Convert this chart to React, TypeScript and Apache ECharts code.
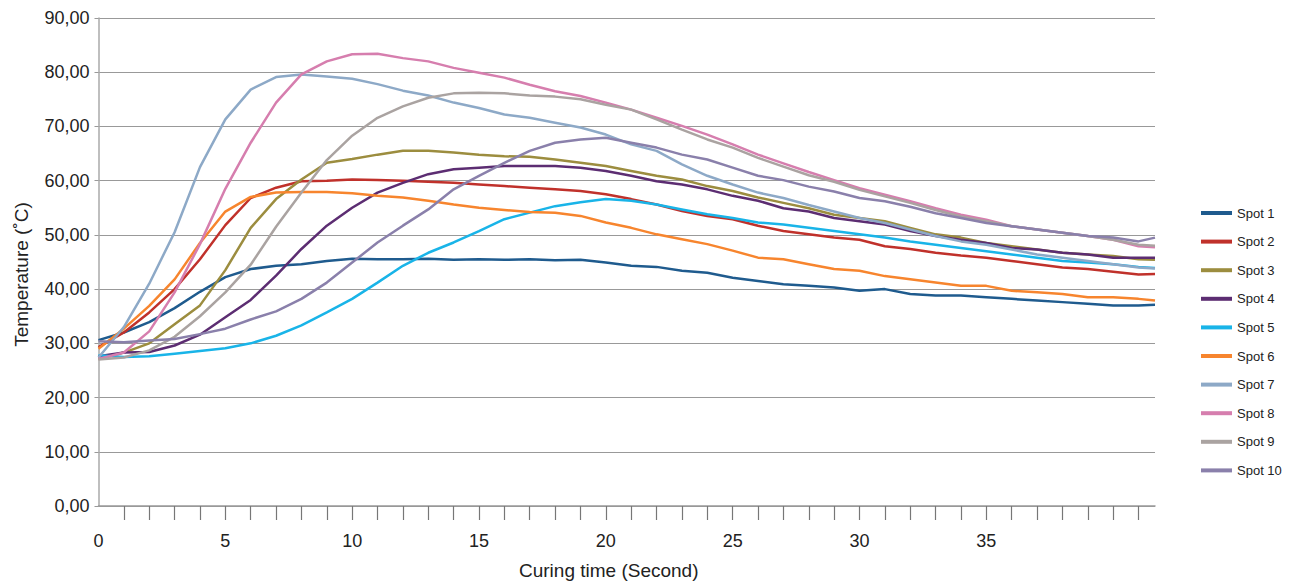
import React, { useEffect, useRef } from "react";
import * as echarts from "echarts";

const TIME = [0, 1, 2, 3, 4, 5, 6, 7, 8, 9, 10, 11, 12, 13, 14, 15, 16, 17, 18, 19, 20, 21, 22, 23, 24, 25, 26, 27, 28, 29, 30, 31, 32, 33, 34, 35, 36, 37, 38, 39, 40, 41, 41.65];

const SPOT_NAMES = ["Spot 1", "Spot 2", "Spot 3", "Spot 4", "Spot 5", "Spot 6", "Spot 7", "Spot 8", "Spot 9", "Spot 10"];
const SPOT_COLORS = ["#1f5b8e", "#c0312b", "#9c8d3f", "#5c2d72", "#19b4e8", "#f7852e", "#8da9c7", "#d67eae", "#aaa3a1", "#8a80ab"];

const SPOT1 = [30.6, 32.0, 33.9, 36.5, 39.5, 42.2, 43.7, 44.3, 44.6, 45.2, 45.6, 45.5, 45.5, 45.6, 45.4, 45.5, 45.4, 45.5, 45.3, 45.4, 44.9, 44.3, 44.1, 43.4, 43.0, 42.1, 41.5, 40.9, 40.6, 40.3, 39.7, 40.0, 39.1, 38.8, 38.8, 38.5, 38.2, 37.9, 37.6, 37.3, 37.0, 37.0, 37.1];
const SPOT2 = [29.3, 32.0, 35.7, 40.0, 45.5, 51.8, 56.8, 58.7, 59.9, 60.0, 60.2, 60.1, 60.0, 59.8, 59.6, 59.3, 59.0, 58.7, 58.4, 58.1, 57.5, 56.6, 55.6, 54.4, 53.5, 52.9, 51.7, 50.7, 50.1, 49.5, 49.1, 47.9, 47.4, 46.7, 46.2, 45.8, 45.2, 44.6, 44.0, 43.7, 43.2, 42.7, 42.8];
const SPOT3 = [27.1, 28.3, 30.0, 33.5, 37.0, 43.5, 51.3, 56.6, 60.2, 63.3, 64.0, 64.8, 65.5, 65.5, 65.2, 64.8, 64.5, 64.4, 63.9, 63.3, 62.7, 61.8, 60.9, 60.2, 59.0, 58.1, 56.9, 55.9, 54.9, 53.7, 53.1, 52.5, 51.3, 50.1, 49.5, 48.5, 47.9, 47.3, 46.7, 46.4, 46.1, 45.5, 45.4];
const SPOT4 = [27.6, 28.3, 28.4, 29.6, 31.6, 34.8, 38.0, 42.5, 47.4, 51.7, 55.0, 57.8, 59.6, 61.2, 62.1, 62.4, 62.7, 62.7, 62.7, 62.4, 61.8, 60.9, 59.9, 59.3, 58.4, 57.2, 56.3, 54.9, 54.3, 53.1, 52.5, 51.9, 50.7, 49.8, 49.1, 48.5, 47.6, 47.3, 46.7, 46.4, 45.8, 45.8, 45.8];
const SPOT5 = [27.8, 27.5, 27.6, 28.1, 28.6, 29.1, 30.0, 31.4, 33.3, 35.7, 38.2, 41.2, 44.3, 46.7, 48.6, 50.7, 52.9, 54.1, 55.3, 56.0, 56.6, 56.3, 55.6, 54.7, 53.8, 53.1, 52.3, 51.9, 51.3, 50.7, 50.1, 49.5, 48.8, 48.2, 47.6, 47.0, 46.4, 45.8, 45.2, 44.9, 44.6, 44.1, 43.9];
const SPOT6 = [29.0, 32.7, 36.9, 41.8, 48.5, 54.3, 57.0, 57.8, 57.9, 57.9, 57.7, 57.2, 56.9, 56.3, 55.6, 55.0, 54.6, 54.2, 54.1, 53.5, 52.3, 51.3, 50.1, 49.2, 48.3, 47.1, 45.8, 45.5, 44.6, 43.7, 43.4, 42.4, 41.8, 41.2, 40.6, 40.6, 39.7, 39.4, 39.1, 38.5, 38.5, 38.2, 37.9];
const SPOT7 = [27.4, 33.0, 41.0, 50.5, 62.5, 71.3, 76.8, 79.1, 79.6, 79.2, 78.8, 77.8, 76.6, 75.7, 74.4, 73.4, 72.2, 71.6, 70.7, 69.8, 68.5, 66.7, 65.5, 63.0, 60.9, 59.3, 57.8, 56.8, 55.5, 54.3, 53.1, 52.2, 51.0, 49.8, 48.8, 48.2, 47.3, 46.4, 45.8, 45.2, 44.6, 44.0, 43.8];
const SPOT8 = [27.1, 28.3, 32.2, 39.4, 48.3, 58.5, 67.0, 74.4, 79.6, 82.0, 83.3, 83.4, 82.6, 82.0, 80.8, 79.9, 79.0, 77.7, 76.5, 75.6, 74.4, 73.1, 71.6, 70.1, 68.5, 66.7, 64.8, 63.2, 61.6, 60.1, 58.6, 57.4, 56.2, 54.9, 53.7, 52.8, 51.6, 51.0, 50.4, 49.8, 49.1, 47.9, 47.7];
const SPOT9 = [27.0, 27.4, 28.7, 31.2, 35.0, 39.4, 44.5, 51.5, 57.8, 63.8, 68.3, 71.6, 73.7, 75.3, 76.1, 76.2, 76.1, 75.7, 75.5, 75.0, 74.0, 73.1, 71.3, 69.4, 67.6, 66.1, 64.2, 62.6, 61.0, 59.8, 58.3, 57.1, 55.9, 54.6, 53.4, 52.5, 51.6, 51.0, 50.4, 49.8, 49.1, 48.2, 48.0];
const SPOT10 = [30.4, 30.2, 30.5, 30.8, 31.7, 32.7, 34.4, 35.9, 38.2, 41.2, 44.9, 48.6, 51.7, 54.7, 58.4, 60.9, 63.3, 65.5, 67.0, 67.6, 67.9, 67.0, 66.1, 64.8, 63.9, 62.4, 60.9, 60.1, 58.9, 58.0, 56.8, 56.2, 55.2, 54.0, 53.1, 52.2, 51.6, 51.0, 50.4, 49.8, 49.5, 48.8, 49.5];

const SPOT_VALUES = [SPOT1, SPOT2, SPOT3, SPOT4, SPOT5, SPOT6, SPOT7, SPOT8, SPOT9, SPOT10];

const X_LABELS = [0, 5, 10, 15, 20, 25, 30, 35];
const X_TICKS = [1, 2, 3, 4, 5, 6, 7, 8, 9, 10, 11, 12, 13, 14, 15, 16, 17, 18, 19, 20, 21, 22, 23, 24, 25, 26, 27, 28, 29, 30, 31, 32, 33, 34, 35, 36, 37, 38, 39, 40, 41];

const FONT = "'Liberation Sans', Arial, Helvetica, sans-serif";

export default function App() {
  const ref = useRef<HTMLDivElement>(null);
  useEffect(() => {
    if (!ref.current) return;
    const chart = echarts.init(ref.current, null, { renderer: "svg" });
    chart.setOption({
      animation: false,
      backgroundColor: "#ffffff",
      grid: { left: 98.5, right: 135, top: 18, bottom: 76, containLabel: false },
      legend: {
        data: SPOT_NAMES,
        orient: "vertical",
        left: 1201,
        top: 205,
        padding: 0,
        itemGap: 12.6,
        itemWidth: 31,
        itemHeight: 4,
        icon: "rect",
        textStyle: {
          fontFamily: "'Liberation Sans Narrow', " + FONT,
          fontSize: 13,
          lineHeight: 16,
          color: "#222",
        },
      },
      xAxis: {
        type: "value",
        min: 0,
        max: 41.65,
        interval: 1,
        name: "Curing time (Second)",
        nameLocation: "middle",
        nameGap: 55,
        nameTextStyle: { fontFamily: FONT, fontSize: 19, color: "#222", padding: [0, 36, 0, 0] },
        axisLine: { show: true, lineStyle: { color: "#999", width: 1.5 } },
        axisTick: { show: true, inside: false, length: 14, customValues: X_TICKS, lineStyle: { color: "#777", width: 1.2 } },
        axisLabel: { customValues: X_LABELS, fontFamily: FONT, fontSize: 18, color: "#222", margin: 26 },
        splitLine: { show: false },
      },
      yAxis: {
        type: "value",
        min: 0,
        max: 90,
        interval: 10,
        name: "Temperature (˚C)",
        nameLocation: "middle",
        nameGap: 68,
        nameRotate: 90,
        nameTextStyle: { fontFamily: FONT, fontSize: 19, color: "#222", padding: [0, 25, 0, 0] },
        axisLine: { show: true, lineStyle: { color: "#aaa", width: 1.5 } },
        axisTick: { show: true, length: 4, lineStyle: { color: "#999" } },
        axisLabel: {
          fontFamily: FONT,
          fontSize: 18,
          color: "#222",
          margin: 9,
          formatter: (v: number) => v.toFixed(2).replace(".", ","),
        },
        splitLine: { show: true, lineStyle: { color: "#999", width: 1.2 } },
      },
      series: SPOT_NAMES.map((name, i) => ({
        name,
        type: "line",
        symbol: "none",
        showSymbol: false,
        data: TIME.map((t, j) => [t, SPOT_VALUES[i][j]]),
        color: SPOT_COLORS[i],
        lineStyle: { width: 2.5, color: SPOT_COLORS[i] },
      })),
    });
    return () => chart.dispose();
  }, []);
  return <div ref={ref} style={{ position: "absolute", left: 0, top: 0, width: 1290, height: 585 }} />;
}
